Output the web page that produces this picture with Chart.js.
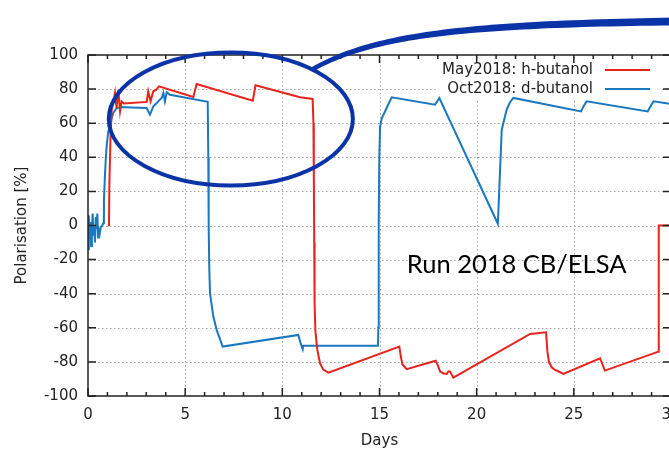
<!DOCTYPE html>
<html>
<head>
<meta charset="utf-8">
<script src="https://cdn.jsdelivr.net/npm/chart.js@4.4.1/dist/chart.umd.min.js"></script>
<style>
html, body { margin: 0; padding: 0; overflow: hidden; background: #fff; }
canvas { display: block; }
</style>
</head>
<body>
<canvas id="polarisation-chart" width="700" height="450"></canvas>
<script>
// May 2018 run, h-butanol target
const redDays = [1.08, 1.10, 1.16, 1.22, 1.30, 1.39, 1.47, 1.56, 1.65, 1.73, 1.85, 3.02, 3.10, 3.22, 3.36, 3.50, 3.65,
    5.42, 5.59, 8.48, 8.62, 10.91, 11.56, 11.60, 11.62, 11.64, 11.66, 11.70, 11.80, 11.94, 12.10, 12.37,
    16.02, 16.10, 16.18, 16.40, 17.89, 18.00, 18.12, 18.30, 18.46, 18.55, 18.63, 18.80,
    22.75, 23.57, 23.64, 23.72, 23.85, 24.03, 24.20, 24.46, 26.35, 26.60, 29.35, 29.37, 30.6]
const redPol = [-0.5, 25, 52, 68, 72, 77.7, 68.9, 79.7, 67, 72.8, 71.6, 72.5, 78.7, 72.8, 78.7, 79.5, 81.6,
    75.4, 83, 73.2, 82.2, 75.2, 74.2, 60, 30, -10, -45, -62, -73, -80.8, -84.5, -86.3,
    -71, -77, -81.5, -84.3, -79.3, -82, -85.7, -86.8, -87, -85.5, -85.7, -89.2,
    -63.6, -62.6, -74, -80, -83, -84.7, -85.5, -87, -77.9, -85.1, -74, 0, 0]

// October 2018 run, d-butanol target
const blueDays = [0, 0.04, 0.08, 0.12, 0.16, 0.20, 0.24, 0.28, 0.32, 0.36, 0.40, 0.44, 0.48, 0.52, 0.56, 0.60, 0.66, 0.74,
    0.79, 0.82, 0.87, 0.92, 0.96, 1.04, 1.13, 1.22, 1.30, 1.45, 1.65, 2.20, 3.02, 3.10, 3.19, 3.36, 3.55, 3.70, 3.80,
    3.88, 3.96, 4.05, 4.22, 6.16, 6.19, 6.21, 6.24, 6.28, 6.45, 6.62, 6.93, 10.82, 10.94, 11.05, 11.08,
    14.92, 14.94, 14.96, 14.99, 15.03, 15.12, 15.29, 15.45, 15.63, 17.86, 17.98, 18.08,
    21.09, 21.17, 21.29, 21.54, 21.70, 21.89, 25.37, 25.50, 25.66, 28.80, 28.95, 29.10, 30.2]
const bluePol = [-14, 6, -8, 2, -12, -3, 7, -6, -1, -10, 5, -2, 7, -7, -3, -5, -1, 0,
    1.4, 15, 28.8, 40, 46.4, 55, 58.1, 63, 66, 68.5, 69.5, 69.2, 68.9, 67, 65, 69.9, 72, 73.8, 75,
    77.7, 72.8, 78.1, 76.7, 72.5, 40, 0, -25, -40, -53.4, -61.2, -71, -64.2, -69, -72.6, -70.6,
    -70.6, -60, 0, 40, 58, 63, 67, 71, 75.2, 70.9, 73, 74.8,
    1, 23, 56.2, 67.9, 72, 74.8, 66.9, 70, 72.8, 66.9, 70, 72.8, 71]

const seriesLabels = ['May2018: h-butanol', 'Oct2018: d-butanol']
const seriesColors = ['#e8231c', '#1a78c0']

// highlighted stretch of the first days
const ringDay = 7.35, ringPol = 62.5, ringHalfDays = 6.28, ringHalfPol = 39
const runText = 'Run 2018 CB/ELSA'

const ctx = document.getElementById('polarisation-chart').getContext('2d')

Chart.defaults.font.family = '"DejaVu Sans", sans-serif'
Chart.defaults.font.size = 15
Chart.defaults.color = '#222'

function toPoints(xs, ys) {
    return xs.map((d, i) => ({ x: d, y: ys[i] }))
}

// dotted grid made of small squares so the dots stay crisp
var dotGrid = {
    id: 'dotGrid',
    beforeDatasetsDraw(chart) {
        const { ctx, chartArea: { left, right, top, bottom }, scales: { x, y } } = chart
        ctx.save()
        ctx.fillStyle = '#a4a4a4'
        for (let d = x.min + 5; d < x.max; d += 5) {
            const px = Math.round(x.getPixelForValue(d))
            for (let py = top + 2; py < bottom; py += 4) ctx.fillRect(px, py, 1, 1.5)
        }
        for (let v = y.min + 20; v < y.max; v += 20) {
            const py = Math.round(y.getPixelForValue(v))
            for (let px = left + 2; px < right; px += 4) ctx.fillRect(px, py, 1.5, 1)
        }
        ctx.restore()
    }
}

var keyBox = {
    id: 'keyBox',
    beforeDatasetsDraw(chart) {
        const { ctx, chartArea: { right, top } } = chart
        ctx.save()
        ctx.font = '15px "DejaVu Sans"'
        let widest = 0
        chart.data.datasets.forEach(ds => { widest = Math.max(widest, ctx.measureText(ds.label).width) })
        ctx.fillStyle = '#fff'
        ctx.fillRect(right - 78 - widest - 4, top + 5, widest + 70, 39)

        ctx.textAlign = 'right'
        ctx.textBaseline = 'middle'
        chart.data.datasets.forEach((ds, i) => {
            const ly = top + 15 + i * 19
            ctx.fillStyle = '#222'
            ctx.fillText(ds.label, right - 78, ly)
            ctx.strokeStyle = ds.borderColor
            ctx.lineWidth = 2
            ctx.beginPath()
            ctx.moveTo(right - 66, ly)
            ctx.lineTo(right - 21, ly)
            ctx.stroke()
        })
        ctx.restore()
    }
}

var frame = {
    id: 'frame',
    afterDraw(chart) {
        const { ctx, chartArea: { left, right, top, bottom }, scales: { x, y } } = chart
        ctx.save()

        // border with inward ticks, gnuplot style
        ctx.strokeStyle = '#222'
        ctx.lineWidth = 1.5
        ctx.strokeRect(left, top, right - left, bottom - top)
        ctx.beginPath()
        for (let d = x.min; d <= x.max; d++) {
            const px = x.getPixelForValue(d)
            const len = d % 5 === 0 ? 8 : 4
            ctx.moveTo(px, bottom); ctx.lineTo(px, bottom - len)
            ctx.moveTo(px, top); ctx.lineTo(px, top + len)
        }
        for (let v = y.min; v <= y.max; v += 20) {
            const py = y.getPixelForValue(v)
            ctx.moveTo(left, py); ctx.lineTo(left + 8, py)
            ctx.moveTo(right, py); ctx.lineTo(right - 8, py)
        }
        ctx.stroke()

        // ring round the first week
        const cx = x.getPixelForValue(ringDay)
        const cy = y.getPixelForValue(ringPol)
        const rx = x.getPixelForValue(ringDay + ringHalfDays) - cx
        const ry = cy - y.getPixelForValue(ringPol + ringHalfPol)
        ctx.strokeStyle = '#0a33a8'
        ctx.lineWidth = 4
        ctx.beginPath()
        ctx.ellipse(cx, cy, rx, ry, 0, 0, 2 * Math.PI)
        ctx.stroke()

        // pointer leaving the ring towards the top right, thickening as it goes
        const a = -0.84
        const p0 = [cx + rx * Math.cos(a), cy + ry * Math.sin(a)]
        const p1 = [378, 32], p2 = [480, 23], p3 = [720, 21]
        const bez = (t, k) => {
            const u = 1 - t
            return u * u * u * p0[k] + 3 * u * u * t * p1[k] + 3 * u * t * t * p2[k] + t * t * t * p3[k]
        }
        const upper = [], lower = []
        const n = 60
        for (let i = 0; i <= n; i++) {
            const t = i / n
            const px = bez(t, 0), py = bez(t, 1)
            const t2 = Math.min(1, t + 0.001), t1 = Math.max(0, t - 0.001)
            let dx = bez(t2, 0) - bez(t1, 0), dy = bez(t2, 1) - bez(t1, 1)
            const l = Math.hypot(dx, dy)
            dx /= l; dy /= l
            const w = (4.5 + 3.5 * t) / 2
            upper.push([px - dy * w, py + dx * w])
            lower.push([px + dy * w, py - dx * w])
        }
        ctx.fillStyle = '#0a33a8'
        ctx.beginPath()
        upper.forEach((p, i) => i ? ctx.lineTo(p[0], p[1]) : ctx.moveTo(p[0], p[1]))
        lower.reverse().forEach(p => ctx.lineTo(p[0], p[1]))
        ctx.closePath()
        ctx.fill()

        // run name
        ctx.font = '25.5px Lato, "Open Sans", sans-serif'
        ctx.fillStyle = '#000'
        ctx.textAlign = 'left'
        ctx.textBaseline = 'middle'
        ctx.fillText(runText, x.getPixelForValue(16.4), y.getPixelForValue(-23))
        ctx.restore()
    }
}

var datasets = [{
    label: seriesLabels[0],
    data: toPoints(redDays, redPol),
    borderColor: seriesColors[0],
}, {
    label: seriesLabels[1],
    data: toPoints(blueDays, bluePol),
    borderColor: seriesColors[1],
}].map(ds => Object.assign(ds, { borderWidth: 2, pointRadius: 0, tension: 0, fill: false }))

var options = {
    responsive: false,
    animation: false,
    layout: { padding: { top: 55, right: 29, left: 0, bottom: 0 } },
    plugins: {
        legend: { display: false },
        tooltip: { enabled: false },
    },
    scales: {
        x: {
            type: 'linear',
            min: 0,
            max: 30,
            afterFit(scale) { scale.height = 54 },
            ticks: { stepSize: 5, maxRotation: 0, padding: 10 },
            grid: { display: false, drawTicks: false },
            border: { display: false },
            title: { display: true, text: 'Days', padding: { top: 0, bottom: 0 } },
        },
        y: {
            min: -100,
            max: 100,
            afterFit(scale) { scale.width = 88 },
            ticks: { stepSize: 20, padding: 10 },
            grid: { display: false, drawTicks: false },
            border: { display: false },
            title: { display: true, text: 'Polarisation [%]', padding: { top: 13, bottom: 0 } },
        }
    }
}

var MyChart = new Chart(ctx, {
    type: 'line',
    data: { datasets: datasets },
    options,
    plugins: [dotGrid, keyBox, frame]
})
</script>
</body>
</html>
